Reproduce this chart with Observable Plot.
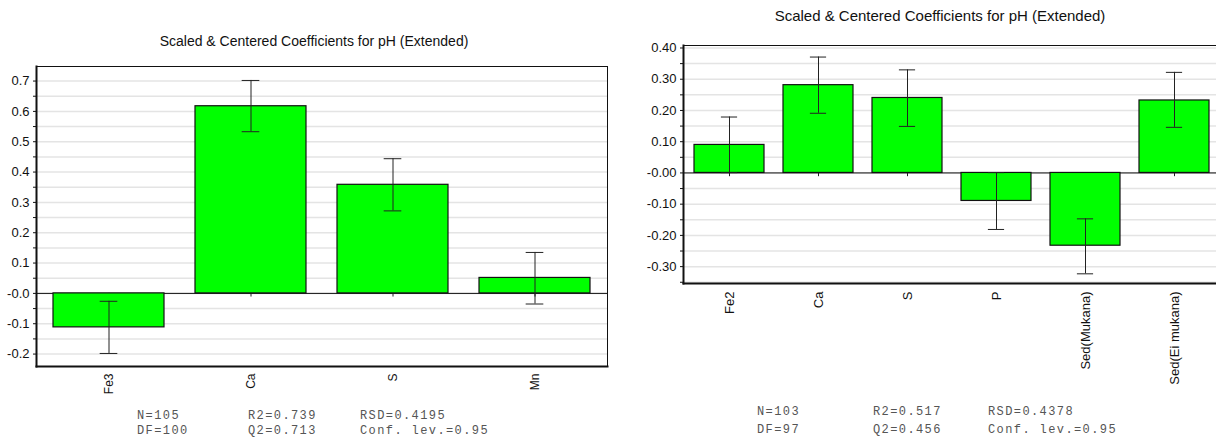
<!DOCTYPE html>
<html><head><meta charset="utf-8">
<script src="https://cdn.jsdelivr.net/npm/d3@7"></script>
<script src="https://cdn.jsdelivr.net/npm/@observablehq/plot@0.6"></script>
<style>
html,body{margin:0;padding:0;width:1216px;height:439px;overflow:hidden;background:#fff;font-family:"Liberation Sans",Arial,sans-serif;}
.abs{position:absolute;}
.abs svg{max-width:none !important;}
.title{position:absolute;white-space:nowrap;transform:translateX(-50%);color:#111;line-height:16px;}
.stat{position:absolute;font-family:"Liberation Mono","Courier New",monospace;font-size:12px;letter-spacing:1.4px;color:#555;white-space:pre;line-height:12px;}
</style></head><body>
<div id="left" class="abs" style="left:0;top:0;width:620px"></div>
<div id="right" class="abs" style="left:620px;top:0;width:611px"></div>
<div class="title" style="left:314px;top:33px;font-size:14px">Scaled &amp; Centered Coefficients for pH (Extended)</div>
<div class="title" style="left:940px;top:8px;font-size:15px">Scaled &amp; Centered Coefficients for pH (Extended)</div>
<div id="stats"></div>
<script>
// ---- Left chart data ----
const leftCategories = ["Fe3", "Ca", "S", "Mn"];
const leftCoef = [-0.112, 0.617, 0.358, 0.051];
const leftLow = [-0.198, 0.533, 0.272, -0.035];
const leftHigh = [-0.026, 0.702, 0.444, 0.135];
const leftYTicks = [-0.2, -0.1, 0, 0.1, 0.2, 0.3, 0.4, 0.5, 0.6, 0.7];
const leftYTickLabels = ["-0.2", "-0.1", "-0.0", "0.1", "0.2", "0.3", "0.4", "0.5", "0.6", "0.7"];
const leftMinorTicks = [-0.15, -0.05, 0.05, 0.15, 0.25, 0.35, 0.45, 0.55, 0.65];
const leftStats = [["N=105", "R2=0.739", "RSD=0.4195"], ["DF=100", "Q2=0.713", "Conf. lev.=0.95"]];

// ---- Right chart data ----
const rightCategories = ["Fe2", "Ca", "S", "P", "Sed(Mukana)", "Sed(Ei mukana)"];
const rightCoef = [0.0897, 0.281, 0.240, -0.0897, -0.233, 0.232];
const rightLow = [0.001, 0.191, 0.149, -0.181, -0.323, 0.146];
const rightHigh = [0.179, 0.371, 0.330, 0.001, -0.147, 0.322];
const rightYTicks = [-0.3, -0.2, -0.1, 0, 0.1, 0.2, 0.3, 0.4];
const rightYTickLabels = ["-0.30", "-0.20", "-0.10", "-0.00", "0.10", "0.20", "0.30", "0.40"];
const rightMinorTicks = [-0.35, -0.25, -0.15, -0.05, 0.05, 0.15, 0.25, 0.35];
const rightStats = [["N=103", "R2=0.517", "RSD=0.4378"], ["DF=97", "Q2=0.456", "Conf. lev.=0.95"]];

function makeChart(o) {
  const data = o.cats.map((c, i) => ({cat: c, coef: o.coef[i], lo: o.low[i], hi: o.high[i]}));
  const labelMap = new Map(o.ticks.map((t, i) => [t, o.tickLabels[i]]));
  const grid = o.ticks.concat(o.minor);
  const bw = o.step * (1 - o.padInner);
  const capInset = (bw - o.cap) / 2;
  return Plot.plot({
    width: o.width, height: o.height,
    marginLeft: o.ml, marginRight: o.mr, marginTop: o.mt, marginBottom: o.mb,
    style: {fontFamily: "'Liberation Sans', Arial, sans-serif", color: "#111", background: "transparent", maxWidth: "none"},
    x: {domain: o.cats, paddingInner: o.padInner, paddingOuter: o.padInner / 2, axis: null, label: null},
    y: {domain: o.domain, axis: null, label: null},
    marks: [
      Plot.ruleY(grid, {stroke: "#e4e4e4", strokeWidth: 1.5}),
      Plot.ruleY([0], {stroke: "#111", strokeWidth: 1}),
      Plot.ruleX(o.cats, {x: d => d, y1: 0, y2: o.tickLen, stroke: "#222"}),
      Plot.barY(data, {x: "cat", y: "coef", fill: "#00ff00", stroke: "#111", strokeWidth: 1.2}),
      Plot.ruleX(data, {x: "cat", y1: "lo", y2: "hi", stroke: "#222", strokeWidth: 1}),
      Plot.tickY(data, {x: "cat", y: "lo", stroke: "#222", strokeWidth: 1, insetLeft: capInset, insetRight: capInset}),
      Plot.tickY(data, {x: "cat", y: "hi", stroke: "#222", strokeWidth: 1, insetLeft: capInset, insetRight: capInset}),
      Plot.frame({stroke: "#111", strokeWidth: 1}),
      Plot.axisY(o.ticks, {anchor: "left", tickSize: 3, tickPadding: 4, fontSize: o.fs, tickFormat: d => labelMap.get(d), stroke: "#111", label: null}),
      Plot.axisY(o.minor, {anchor: "left", tickSize: 3, tickFormat: () => "", stroke: "#111", label: null}),
      Plot.axisX({anchor: "bottom", tickSize: 0, tickPadding: o.xPad, tickRotate: -90, fontSize: o.xfs, label: null}),
      Plot.frame({anchor: "left", stroke: "#111", strokeWidth: 2}),
      Plot.frame({anchor: "bottom", stroke: "#111", strokeWidth: 2})
    ]
  });
}

document.getElementById("left").append(makeChart({
  cats: leftCategories, coef: leftCoef, low: leftLow, high: leftHigh,
  ticks: leftYTicks, tickLabels: leftYTickLabels, minor: leftMinorTicks,
  domain: [-0.241, 0.748], width: 620, height: 405, ml: 36, mr: 13, mt: 66, mb: 39,
  step: 571 / 4, padInner: 0.22, cap: 18, tickLen: -0.012, fs: 13, xfs: 12, xPad: 7
}));
document.getElementById("right").append(makeChart({
  cats: rightCategories, coef: rightCoef, low: rightLow, high: rightHigh,
  ticks: rightYTicks, tickLabels: rightYTickLabels, minor: rightMinorTicks,
  domain: [-0.354, 0.408], width: 611, height: 400, ml: 63, mr: 10, mt: 45, mb: 117,
  step: 537.6 / 6, padInner: 0.21, cap: 17, tickLen: -0.012, fs: 13, xfs: 13, xPad: 8
}));

function addStats(rows, xs, tops) {
  const host = document.getElementById("stats");
  rows.forEach((row, r) => row.forEach((t, c) => {
    const d = document.createElement("div");
    d.className = "stat";
    d.style.left = xs[c] + "px";
    d.style.top = tops[r] + "px";
    d.textContent = t;
    host.append(d);
  }));
}
addStats(leftStats, [137, 248, 360], [409.5, 425]);
addStats(rightStats, [757, 873, 988], [405.5, 424]);
</script>
</body></html>
